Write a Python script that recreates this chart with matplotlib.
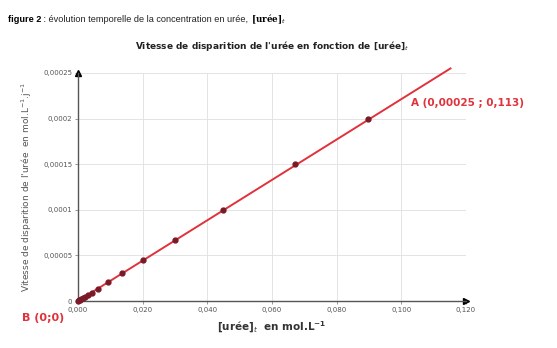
import numpy as np
import matplotlib.pyplot as plt

# données
uree = [0.0, 0.0003, 0.0006, 0.0010, 0.0015, 0.0022, 0.0030, 0.0042,
        0.0062, 0.0093, 0.0137, 0.0202, 0.0300, 0.0448, 0.0672, 0.0896]
vitesse = [0.0, 0.0000007, 0.0000013, 0.0000022, 0.0000033, 0.0000049,
           0.0000066, 0.0000093, 0.0000137, 0.0000206, 0.0000303,
           0.0000447, 0.0000664, 0.0001, 0.00015, 0.0002]

# droite modélisée (de B à un peu au-delà de A)
droite_x = [0.0, 0.1152]
droite_y = [0.0, 0.000255]

xticks = [0.0, 0.02, 0.04, 0.06, 0.08, 0.10, 0.12]
xlabels = ['0,000', '0,020', '0,040', '0,060', '0,080', '0,100', '0,120']
yticks = [0.0, 0.00005, 0.0001, 0.00015, 0.0002, 0.00025]
ylabels = ['0', '0,00005', '0,0001', '0,00015', '0,0002', '0,00025']

fig = plt.figure(figsize=(5.57, 3.48), dpi=100)
ax = fig.add_axes([78 / 557, 1 - 301 / 348, (466 - 78) / 557, (301 - 73) / 348])

ax.plot(droite_x, droite_y, color='#e0323c', lw=1.4, clip_on=False, zorder=3)
ax.plot(uree, vitesse, 'o', color='#7a1a28', ms=3.5, clip_on=False, zorder=4)

ax.set_xlim(0, 0.12)
ax.set_ylim(0, 0.00025)
ax.set_xticks(xticks)
ax.set_xticklabels(xlabels, fontsize=5, color='#555555')
ax.set_yticks(yticks)
ax.set_yticklabels(ylabels, fontsize=5, color='#555555')
ax.tick_params(length=2, width=0.6, color='#888888', pad=2)
ax.grid(True, color='#e4e4e4', lw=0.7)

for s in ['top', 'right']:
    ax.spines[s].set_visible(False)
ax.spines['left'].set_color('#555555')
ax.spines['bottom'].set_color('#555555')
ax.spines['left'].set_linewidth(1.0)
ax.spines['bottom'].set_linewidth(1.0)

# flèches des axes
ax.plot(0.12, 0, '>', color='black', ms=4, clip_on=False)
ax.plot(0, 0.00025, '^', color='black', ms=4, clip_on=False)

ax.set_xlabel('[urée]$_t$  en mol.L$^{\\mathregular{-1}}$', fontsize=7.5,
              fontweight='bold', color='#333333', labelpad=5)
ax.set_ylabel("Vitesse de disparition de l'urée  en mol.L$^{-1}$.j$^{-1}$",
              fontsize=6.5, color='#555555', labelpad=7)

ax.set_title("Vitesse de disparition de l'urée en fonction de [urée]$_t$",
             fontsize=6.5, fontweight='bold', color='#222222', pad=17)

# en-tête : morceaux placés les uns après les autres
t1 = fig.text(8 / 557, 1 - 19 / 348, 'figure 2', fontsize=6.6, fontweight='bold',
              family='Liberation Sans', va='center')
t2 = fig.text(0, 0, ' : évolution temporelle de la concentration en urée, ',
              fontsize=6.6, family='Liberation Sans', va='center', color='#222222')
fig.canvas.draw()
bb = t1.get_window_extent()
t2.set_position((bb.x1 / fig.bbox.width, 1 - 19 / 348))
fig.canvas.draw()
bb2 = t2.get_window_extent()
fig.text(bb2.x1 / fig.bbox.width, 1 - 19 / 348, '[urée]$_t$', fontsize=6.3,
         fontweight='bold', family='DejaVu Serif', va='center')

ax.annotate('A (0,00025 ; 0,113)', xy=(0.1030, 0.000214), fontsize=7.5,
            fontweight='bold', color='#e0323c', annotation_clip=False)
fig.text(22 / 557, 1 - 318 / 348, 'B (0;0)', fontsize=8, fontweight='bold',
         color='#e0323c', va='center')

fig.savefig('out.png', dpi=100)
